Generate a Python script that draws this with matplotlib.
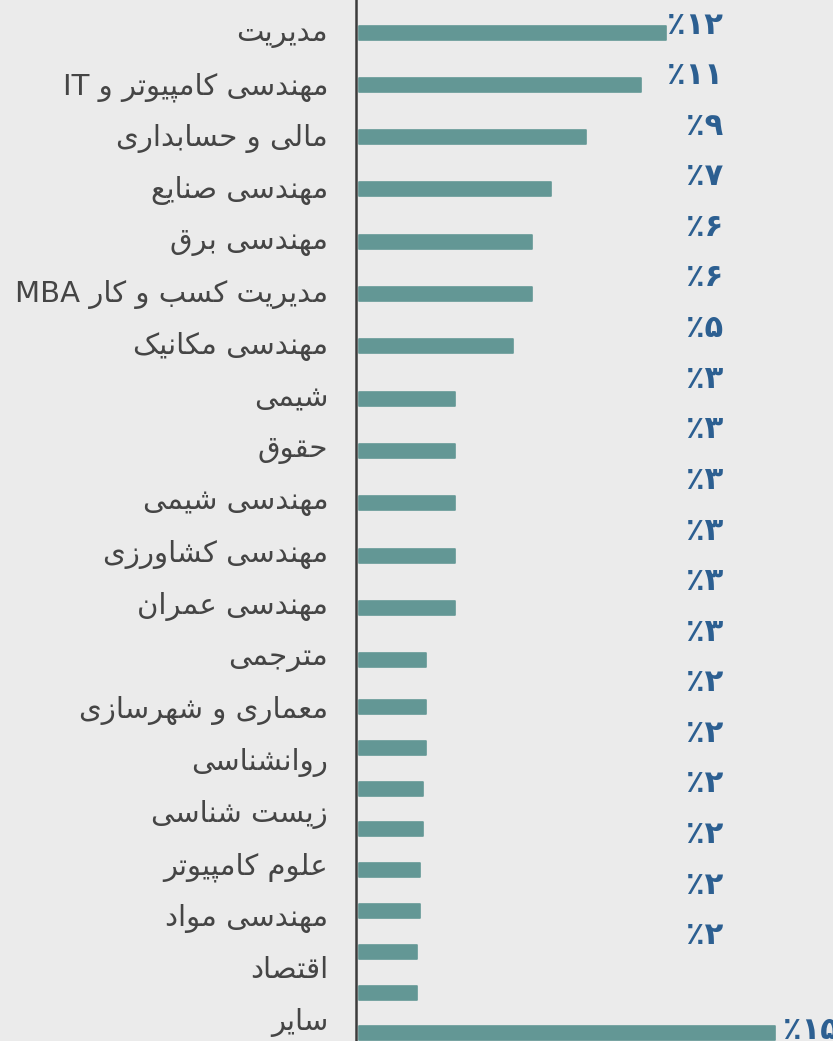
import re

import matplotlib
matplotlib.use('Agg')
import matplotlib.pyplot as plt

# data -----------------------------------------------------------------
fields = ['مدیریت', 'مهندسی کامپیوتر و IT', 'مالی و حسابداری', 'مهندسی صنایع',
          'مهندسی برق', 'مدیریت کسب و کار MBA', 'مهندسی مکانیک', 'شیمی', 'حقوق',
          'مهندسی شیمی', 'مهندسی کشاورزی', 'مهندسی عمران', 'مترجمی',
          'معماری و شهرسازی', 'روانشناسی', 'زیست شناسی', 'علوم کامپیوتر',
          'مهندسی مواد', 'اقتصاد', 'سایر']
share_pct = [12, 11, 9, 7, 6, 6, 5, 3, 3, 3, 3, 3, 3, 2, 2, 2, 2, 2, 2, 15]
bar_values = [96, 88, 71, 60, 54, 54, 48, 30, 30, 30, 30, 30, 21,
              21, 21, 20, 20, 19, 19, 18, 18, 130]

# minimal arabic/persian shaping (matplotlib does no shaping or bidi) --
FORMS = {
    'ا': 'ﺍﺎ', 'د': 'ﺩﺪ', 'ر': 'ﺭﺮ', 'ز': 'ﺯﺰ', 'و': 'ﻭﻮ',
    'ب': 'ﺏﺐﺑﺒ', 'پ': 'ﭖﭗﭘﭙ', 'ت': 'ﺕﺖﺗﺘ', 'ج': 'ﺝﺞﺟﺠ', 'ح': 'ﺡﺢﺣﺤ',
    'س': 'ﺱﺲﺳﺴ', 'ش': 'ﺵﺶﺷﺸ', 'ص': 'ﺹﺺﺻﺼ', 'ع': 'ﻉﻊﻋﻌ', 'ق': 'ﻕﻖﻗﻘ',
    'ک': 'ﮎﮏﮐﮑ', 'ل': 'ﻝﻞﻟﻠ', 'م': 'ﻡﻢﻣﻤ', 'ن': 'ﻥﻦﻧﻨ', 'ه': 'ﻩﻪﻫﻬ',
    'ی': 'ﯼﯽﯾﯿ',
}


def shape(text):
    out = []
    for i, ch in enumerate(text):
        f = FORMS.get(ch)
        if f is None:
            out.append(ch)
            continue
        prev = text[i - 1] if i > 0 else ''
        nxt = text[i + 1] if i + 1 < len(text) else ''
        pj = len(FORMS.get(prev, '')) == 4
        nj = len(f) == 4 and nxt in FORMS
        if pj and nj:
            out.append(f[3])
        elif pj:
            out.append(f[1])
        elif nj:
            out.append(f[2])
        else:
            out.append(f[0])
    tokens = re.findall(r'[A-Za-z0-9]+|[^A-Za-z0-9]', ''.join(out))
    return ''.join(reversed(tokens))


def fa_pct(v):
    return '٪' + str(v).translate(str.maketrans('0123456789', '۰۱۲۳۴۵۶۷۸۹'))


# figure -----------------------------------------------------------------
BG = '#ebebeb'
BAR = '#639795'
PCT = '#2c5f91'
TXT = '#454545'
W, H = 833, 1041
AX_LEFT = 356
PX = 3.2  # pixels per unit of bar value

fig = plt.figure(figsize=(W / 100, H / 100), dpi=100, facecolor=BG)
ax = fig.add_axes([AX_LEFT / W, 0, (W - AX_LEFT) / W, 1], facecolor=BG)
ax.set_xlim(-1, (W - AX_LEFT) / PX - 1)
ax.set_ylim(H, 0)

bar_rows = [32.5 + 52.3 * i for i in range(13)] + \
           [707 + 40.8 * j for j in range(len(bar_values) - 13)]
ax.barh(bar_rows, bar_values, height=14, color=BAR, edgecolor=BAR,
        linewidth=1.2, joinstyle='round')

label_rows = [31 + 52 * i for i in range(len(fields))]
ax.set_yticks(label_rows, labels=[shape(t) for t in fields])
ax.tick_params(axis='y', length=0, pad=20, labelsize=21, labelcolor=TXT)
ax.set_xticks([])

pct_x = (723 - AX_LEFT) / PX - 1
for i, v in enumerate(share_pct[:-1]):
    ax.text(pct_x, 25 + 50.6 * i, fa_pct(v), ha='right', va='center',
            fontsize=22, fontweight='bold', color=PCT)
ax.text(bar_values[-1] + 2.5, bar_rows[-1] - 3, fa_pct(share_pct[-1]),
        ha='left', va='center', fontsize=22, fontweight='bold', color=PCT,
        clip_on=False)

for side in ['top', 'right', 'bottom']:
    ax.spines[side].set_visible(False)
ax.spines['left'].set_linewidth(1.8)
ax.spines['left'].set_color('#3c3c3c')

fig.savefig('out.png', dpi=100, facecolor=BG)
